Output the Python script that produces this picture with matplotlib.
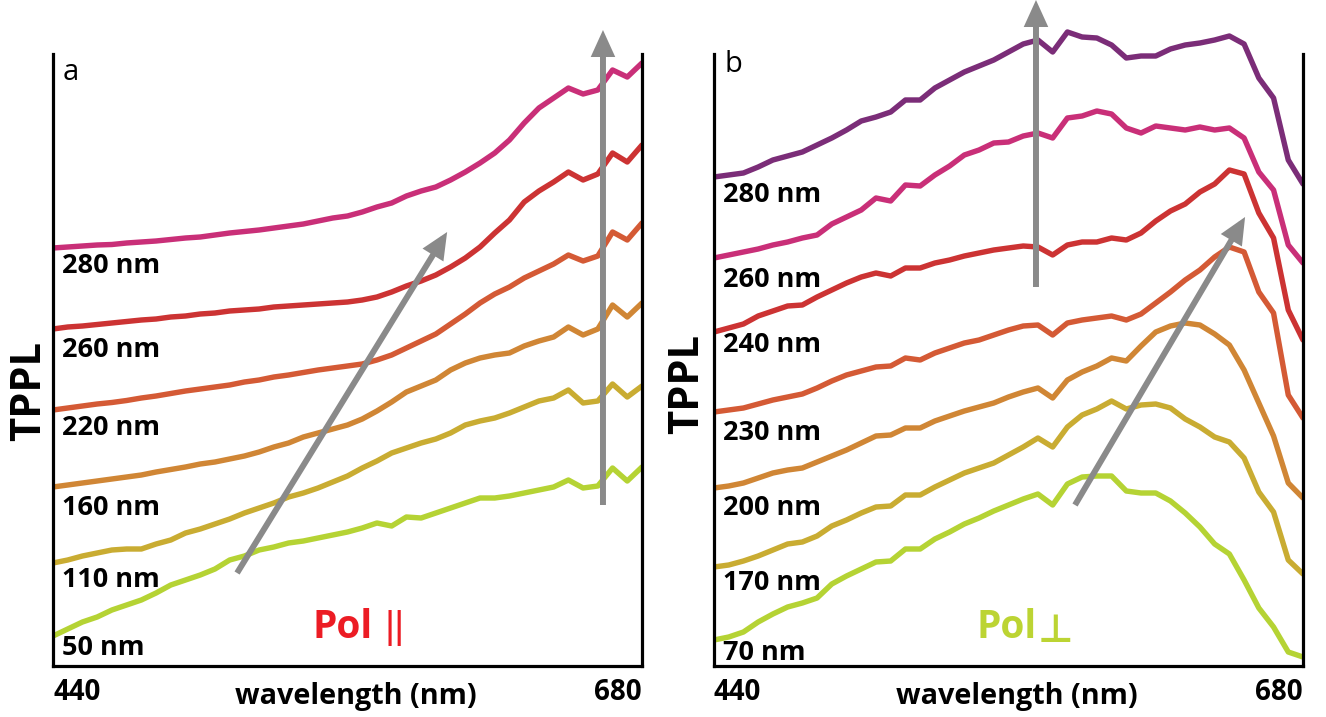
import matplotlib
matplotlib.use("Agg")
import matplotlib.pyplot as plt

# ---------------- data (TPPL, arbitrary units) ----------------
wavelength = [440, 446, 452, 458, 464, 470, 476, 482, 488, 494, 500, 506, 512, 518,
              524, 530, 536, 542, 548, 554, 560, 566, 572, 578, 584, 590, 596, 602,
              608, 614, 620, 626, 632, 638, 644, 650, 656, 662, 668, 674, 680]

# panel a : polarisation parallel
a_labels = ["280 nm", "260 nm", "220 nm", "160 nm", "110 nm", "50 nm"]
a_280 = [418, 419, 420, 421, 421.5, 423, 424, 425, 426.5, 428, 429, 431, 433, 434.5, 436, 438,
         440, 442, 445, 448, 450, 454, 459, 463, 470, 475, 479, 486, 494, 503, 513, 526, 543,
         558, 568, 578, 572, 576, 596, 589, 603]
a_260 = [337, 339, 340, 341.5, 343, 344.5, 346, 347, 349, 350, 352, 353, 355, 356, 357, 359,
         360, 361, 362, 363, 364, 366, 369, 374, 380, 385, 391, 399, 408, 419, 433, 446, 464,
         475, 484, 494, 486, 492, 513, 504, 521]
a_220 = [256, 258, 260, 262, 263.5, 265.5, 268, 270, 272.5, 275, 277, 279, 281, 284, 286, 289,
         291, 293.5, 296, 298, 300, 302, 306, 311, 318, 325, 332, 342, 352, 363, 372, 379, 388,
         395, 402, 411, 405, 410, 434, 426, 443]
a_160 = [179, 181, 183, 185, 187, 189, 191, 194, 196.5, 199, 202, 204, 207, 210, 214, 219,
         223, 229, 233, 237, 241, 247, 255, 264, 274, 280, 286, 296, 303, 308, 311, 313, 320,
         325, 329, 339, 331, 337, 361, 349, 363]
a_110 = [103, 106, 110, 113, 116, 117, 117, 122, 126, 133, 137, 142, 147, 153, 158, 163, 169,
         173, 178, 184, 190, 198, 205, 213, 218, 223, 227, 233, 241, 245, 248, 253, 259, 265,
         268, 276, 263, 265, 282, 269, 280]
a_50 = [30, 37, 44, 49, 56, 61, 66, 73, 81, 86, 91, 97, 106, 110, 116, 119, 123, 125, 128, 131,
        134, 138, 143, 140, 149, 148, 153, 158, 163, 168, 168, 170, 173, 176, 179, 186, 178,
        180, 198, 185, 199]

# panel b : polarisation perpendicular
b_labels = ["280 nm", "260 nm", "240 nm", "230 nm", "200 nm", "170 nm", "70 nm"]
b_280 = [489, 491, 493, 499, 506, 510, 514, 521, 528, 536, 545, 549, 554, 566, 566, 578, 586,
         594, 600, 606, 614, 622, 626, 614, 634, 629, 628, 621, 608, 610, 610, 617, 621, 623,
         626, 630, 622, 588, 568, 506, 482]
b_260 = [408, 411, 414, 417, 421, 424, 428, 431, 442, 449, 456, 468, 465, 481, 480, 491, 500,
         511, 516, 523, 524, 530, 533, 528, 548, 550, 555, 552, 538, 533, 540, 538, 536, 539,
         536, 538, 528, 494, 476, 421, 403]
b_240 = [334, 338, 342, 350, 355, 360, 361, 369, 376, 383, 389, 393, 390, 398, 398, 403, 406,
         410, 413, 416, 418, 420, 419, 411, 421, 424, 424, 428, 426, 433, 445, 455, 462, 474,
         482, 496, 492, 453, 428, 356, 326]
b_230 = [254, 256, 258, 262, 266, 269, 272, 278, 285, 291, 295, 299, 300, 308, 306, 313, 318,
         323, 326, 331, 336, 340, 341, 331, 343, 346, 348, 350, 346, 352, 363, 374, 386, 396,
         409, 419, 414, 374, 353, 271, 248]
b_200 = [178, 180, 183, 188, 193, 196, 198, 204, 210, 216, 223, 230, 231, 238, 238, 245, 250,
         255, 259, 263, 269, 274, 278, 268, 286, 294, 300, 308, 305, 320, 334, 340, 343, 341,
         332, 321, 296, 263, 230, 183, 168]
b_170 = [99, 101, 105, 110, 116, 122, 124, 130, 140, 146, 153, 159, 160, 171, 171, 179, 186,
         193, 198, 203, 211, 219, 228, 219, 239, 251, 257, 265, 257, 261, 262, 258, 247, 239,
         229, 224, 208, 174, 154, 106, 92]
b_70 = [26, 29, 34, 44, 52, 59, 63, 68, 82, 90, 97, 104, 105, 117, 117, 127, 134, 142, 148,
        155, 161, 167, 172, 161, 182, 189, 190, 190, 175, 173, 173, 165, 153, 139, 122, 112,
        86, 58, 39, 14, 9]

x_ticks = [440, 680]

# ---------------- style ----------------
FONT = ["Open Sans", "DejaVu Sans"]
plt.rcParams["font.family"] = FONT

a_series = [a_280, a_260, a_220, a_160, a_110, a_50]
a_colors = ["#c92f78", "#cc3333", "#d45a35", "#d08635", "#c9ac32", "#b5d334"]
a_label_y = [393, 309, 231, 151, 79, 11]

b_series = [b_280, b_260, b_240, b_230, b_200, b_170, b_70]
b_colors = ["#7b2d78", "#c92f78", "#cc3333", "#d45a35", "#d08635", "#c9ac32", "#b5d334"]
b_label_y = [464, 379, 314, 226, 151, 76, 6]

W, H = 1326, 717
fig = plt.figure(figsize=(W / 100, H / 100), dpi=100)


def make_axes(x0, x1):
    ax = fig.add_axes([x0 / W, (H - 666) / H, (x1 - x0) / W, 666 / H])
    ax.set_xlim(440, 680)
    ax.set_ylim(0, 666)
    ax.set_xticks([])
    ax.set_yticks([])
    ax.spines["top"].set_visible(False)
    for s in ["left", "right", "bottom"]:
        ax.spines[s].set_linewidth(2.3)
        ax.spines[s].set_color("black")
    ax.spines["left"].set_bounds(0, 612)
    ax.spines["right"].set_bounds(0, 612)
    ax.patch.set_alpha(0)
    return ax


axA = make_axes(53, 642)
axB = make_axes(714, 1303)

ARROW = "#8a8a8a"


def arrow(ax, tail, tip):
    ax.annotate("", xy=tip, xytext=tail, annotation_clip=False,
                arrowprops=dict(arrowstyle="-|>,head_length=1.1,head_width=0.5",
                                mutation_scale=11, color=ARROW, lw=4.3,
                                shrinkA=0, shrinkB=0, joinstyle="miter",
                                capstyle="butt"),
                zorder=5)


for ax, series, colors, labels, label_y, letter, letter_y, ylab_xy in [
    (axA, a_series, a_colors, a_labels, a_label_y, "a", 586, (-0.039, 0.413)),
    (axB, b_series, b_colors, b_labels, b_label_y, "b", 594, (-0.044, 0.423)),
]:
    for vals, c in zip(series, colors):
        ax.plot(wavelength, vals, color=c, lw=3.9, solid_capstyle="round",
                solid_joinstyle="round", zorder=2)
    for lab, y in zip(labels, label_y):
        ax.text(0.015, y, lab, transform=ax.get_yaxis_transform(), fontsize=19.5,
                fontweight="bold", ha="left", va="baseline", zorder=4)
    ax.text(0.017, letter_y, letter, transform=ax.get_yaxis_transform(), fontsize=21,
            ha="left", va="baseline")
    # axis end labels
    ax.text(x_ticks[0], -0.051, str(x_ticks[0]), transform=ax.get_xaxis_transform(),
            fontsize=20, fontweight="bold", ha="left", va="baseline")
    ax.text(x_ticks[1], -0.051, str(x_ticks[1]), transform=ax.get_xaxis_transform(),
            fontsize=20, fontweight="bold", ha="right", va="baseline")
    ax.set_xlabel("wavelength (nm)", fontsize=20.7, fontweight="bold", va="baseline")
    ax.xaxis.set_label_coords(0.514, -0.057)
    ax.set_ylabel("TPPL", fontsize=30, fontweight="bold", va="center", ha="center")
    ax.yaxis.set_label_coords(*ylab_xy)

# polarisation annotations
tr_a = axA.get_yaxis_transform()
tr_b = axB.get_yaxis_transform()
axA.text(0.441, 28, "Pol", transform=tr_a, fontsize=28, fontweight="bold",
         color="#ec1c24", ha="left", va="baseline")
axA.text(0.563, 28, "||", transform=tr_a, fontsize=28, color="#ec1c24",
         ha="left", va="baseline", family=["Liberation Sans", "DejaVu Sans"])
axB.text(0.445, 28, "Pol", transform=tr_b, fontsize=28, fontweight="bold",
         color="#bcd433", ha="left", va="baseline")
axB.text(0.549, 24, "\u22a5", transform=tr_b, fontsize=28, fontweight="bold",
         color="#bcd433", ha="left", va="baseline", family=["DejaVu Sans"])

# arrows
arrow(axA, (515, 93), (600.6, 434))
arrow(axA, (664.1, 161), (664.1, 636))
arrow(axB, (587.1, 161), (656.4, 449))
arrow(axB, (571.2, 379), (571.2, 666))

fig.savefig("out.png", dpi=100)
